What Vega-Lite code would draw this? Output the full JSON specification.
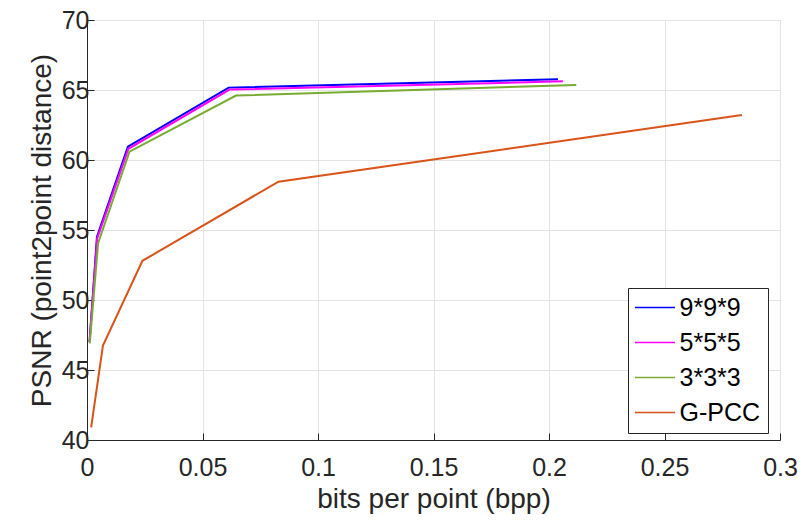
{
  "$schema": "https://vega.github.io/schema/vega-lite/v6.json",
  "width": 693,
  "height": 420,
  "autosize": {"type": "none"},
  "padding": {"left": 87, "top": 20, "right": 24, "bottom": 85},
  "background": "white",
  "config": {
    "font": "Liberation Sans",
    "view": {"stroke": null},
    "axis": {
      "gridColor": "#e3e3e3",
      "gridWidth": 1,
      "domainColor": "#262626",
      "tickColor": "#262626",
      "labelColor": "#262626",
      "titleColor": "#262626",
      "labelFont": "Liberation Sans",
      "titleFont": "Liberation Sans",
      "labelFontSize": 25,
      "titleFontSize": 28,
      "titleFontWeight": "normal"
    }
  },
  "data": {
    "values": [
      {"s": "9*9*9", "o": 1, "x": 0.0011, "y": 47.0},
      {"s": "9*9*9", "o": 2, "x": 0.0043, "y": 54.5},
      {"s": "9*9*9", "o": 3, "x": 0.0177, "y": 60.95},
      {"s": "9*9*9", "o": 4, "x": 0.0613, "y": 65.17},
      {"s": "9*9*9", "o": 5, "x": 0.2039, "y": 65.76},
      {"s": "5*5*5", "o": 1, "x": 0.0011, "y": 47.0},
      {"s": "5*5*5", "o": 2, "x": 0.0044, "y": 54.4},
      {"s": "5*5*5", "o": 3, "x": 0.0179, "y": 60.8},
      {"s": "5*5*5", "o": 4, "x": 0.0617, "y": 65.03},
      {"s": "5*5*5", "o": 5, "x": 0.2060, "y": 65.62},
      {"s": "3*3*3", "o": 1, "x": 0.0012, "y": 46.9},
      {"s": "3*3*3", "o": 2, "x": 0.0048, "y": 54.05},
      {"s": "3*3*3", "o": 3, "x": 0.0184, "y": 60.6},
      {"s": "3*3*3", "o": 4, "x": 0.0645, "y": 64.6},
      {"s": "3*3*3", "o": 5, "x": 0.2118, "y": 65.36},
      {"s": "G-PCC", "o": 1, "x": 0.0018, "y": 40.9},
      {"s": "G-PCC", "o": 2, "x": 0.0069, "y": 46.74},
      {"s": "G-PCC", "o": 3, "x": 0.0240, "y": 52.8},
      {"s": "G-PCC", "o": 4, "x": 0.0829, "y": 58.45},
      {"s": "G-PCC", "o": 5, "x": 0.2835, "y": 63.21}
    ]
  },
  "mark": {"type": "line", "strokeWidth": 2, "clip": true},
  "encoding": {
    "x": {
      "field": "x", "type": "quantitative",
      "scale": {"domain": [0, 0.3], "nice": false, "zero": false},
      "axis": {"values": [0, 0.05, 0.1, 0.15, 0.2, 0.25, 0.3], "format": "~g", "title": "bits per point (bpp)", "tickSize": -7, "labelPadding": 22, "titlePadding": 5, "labelFlush": false}
    },
    "y": {
      "field": "y", "type": "quantitative",
      "scale": {"domain": [40, 70], "nice": false, "zero": false},
      "axis": {"values": [40, 45, 50, 55, 60, 65, 70], "title": "PSNR (point2point distance)", "tickSize": -7, "labelPadding": 5, "titlePadding": 5}
    },
    "color": {
      "field": "s", "type": "nominal",
      "scale": {"domain": ["9*9*9", "5*5*5", "3*3*3", "G-PCC"], "range": ["#0000ff", "#ff00ff", "#77ac30", "#d95319"]},
      "legend": {
        "title": null,
        "orient": "none",
        "legendX": 541,
        "legendY": 268,
        "direction": "vertical",
        "symbolType": "M-2,0H2",
        "symbolSize": 400,
        "symbolStrokeWidth": 1.5,
        "symbolOffset": 7.5,
        "labelFontSize": 25,
        "labelFont": "Liberation Sans",
        "labelColor": "#000000",
        "rowPadding": 9,
        "labelOffset": 12,
        "strokeColor": "#262626",
        "fillColor": "white",
        "padding": 7,
        "offset": 0
      }
    },
    "order": {"field": "o", "type": "quantitative"}
  }
}
